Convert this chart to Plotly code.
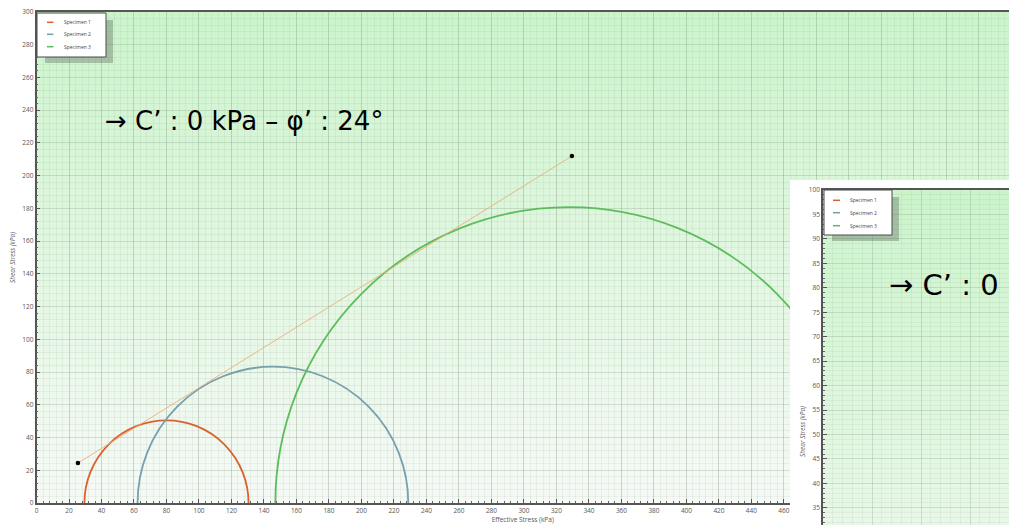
import plotly.graph_objects as go

W, H = 1009, 525

# ---------------- data ----------------
specimens = ["Specimen 1", "Specimen 2", "Specimen 3"]
sigma3 = [29.5, 62.2, 147.0]      # minor effective principal stress (kPa)
sigma1 = [130.5, 228.8, 508.6]    # major effective principal stress (kPa)
colors = ["#d9632f", "#789fae", "#5cbd5c"]
env_sigma = [25.5, 329.5]         # failure envelope end points
env_tau = [24.4, 212.0]
main_xticks = list(range(0, 600, 20))
main_xlabels = [str(v) if v <= 460 else "" for v in main_xticks]
main_label = "→ C’ : 0 kPa – φ’ : 24°"
inset_label = "→ C’ : 0"
x_title = "Effective Stress (kPa)"
y_title = "Shear Stress (kPa)"

MAIN_X = [0, 598.5]
MAIN_Y = [0, 300]
INSET_X = [0, 75.9]
INSET_Y = [31.5, 100]


def px(x):
    return x / W


def py(y):
    return 1 - y / H


fig = go.Figure()

# failure envelope line with its end points
fig.add_trace(go.Scatter(x=env_sigma, y=env_tau, mode="lines+markers",
                         line=dict(color="rgba(236,170,120,0.85)", width=1),
                         marker=dict(color="black", size=4.5),
                         showlegend=False, hoverinfo="skip", cliponaxis=False))
# placeholders so that the mask and inset subplots exist
fig.add_trace(go.Scatter(x=[None], y=[None], xaxis="x2", yaxis="y2",
                         showlegend=False, hoverinfo="skip"))
fig.add_trace(go.Scatter(x=[None], y=[None], xaxis="x3", yaxis="y3",
                         showlegend=False, hoverinfo="skip"))

shapes = []


def lerp(c0, c1, t):
    return "rgb(%d,%d,%d)" % tuple(round(a + (b - a) * t) for a, b in zip(c0, c1))


TOP = (203, 244, 203)
BOT = (246, 249, 246)

# gradient background of the main plot
n = 70
for i in range(n):
    y0 = MAIN_Y[0] + (MAIN_Y[1] - MAIN_Y[0]) * i / n
    y1 = MAIN_Y[0] + (MAIN_Y[1] - MAIN_Y[0]) * (i + 1.05) / n
    t = (i + 0.5) / n
    shapes.append(dict(type="rect", xref="x", yref="y", x0=MAIN_X[0], x1=MAIN_X[1],
                       y0=y0, y1=y1, fillcolor=lerp(BOT, TOP, t),
                       line=dict(width=0), layer="below"))

# gradient background of the inset plot (full 0..100 scale)
n2 = 50
for i in range(n2):
    y0 = 100 * i / n2
    y1 = 100 * (i + 1.05) / n2
    if y1 < INSET_Y[0]:
        continue
    t = (i + 0.5) / n2
    shapes.append(dict(type="rect", xref="x3", yref="y3", x0=INSET_X[0], x1=INSET_X[1],
                       y0=y0, y1=y1, fillcolor=lerp(BOT, TOP, t),
                       line=dict(width=0), layer="below"))

# Mohr circles
for s3, s1, c in zip(sigma3, sigma1, colors):
    r = (s1 - s3) / 2
    shapes.append(dict(type="circle", xref="x", yref="y", x0=s3, x1=s1, y0=-r, y1=r,
                       line=dict(color=c, width=1.8), fillcolor="rgba(0,0,0,0)",
                       layer="between"))

annotations = []


def legend(x0, y0, x1, y1, lx0, lx1, ys, tx):
    shapes.append(dict(type="rect", xref="paper", yref="paper",
                       x0=px(x0 + 8), x1=px(x1 + 7), y0=py(y1 + 6), y1=py(y0 + 7),
                       fillcolor="rgba(95,105,95,0.38)", line=dict(width=0), layer="above"))
    shapes.append(dict(type="rect", xref="paper", yref="paper",
                       x0=px(x0), x1=px(x1), y0=py(y1), y1=py(y0),
                       fillcolor="white", line=dict(color="#4a4a4a", width=1), layer="above"))
    for name, c, yy in zip(specimens, colors, ys):
        shapes.append(dict(type="line", xref="paper", yref="paper",
                           x0=px(lx0), x1=px(lx1), y0=py(yy), y1=py(yy),
                           line=dict(color=c, width=1.5), layer="above"))
        annotations.append(dict(text=name, xref="paper", yref="paper", x=px(tx), y=py(yy),
                                xanchor="left", yanchor="middle", showarrow=False,
                                font=dict(size=5, color="#444", family="Open Sans")))


legend(37, 13, 106, 57, 47, 53.5, [22.3, 34.3, 46.7], 62)
legend(824, 190, 892, 235, 833, 840, [200.3, 212.7, 225.7], 848)

annotations.append(dict(text=main_label, xref="paper", yref="paper", x=px(103), y=py(121),
                        xanchor="left", yanchor="middle", showarrow=False,
                        font=dict(size=26, color="black", family="DejaVu Sans")))
annotations.append(dict(text=inset_label, xref="paper", yref="paper", x=px(887), y=py(285),
                        xanchor="left", yanchor="middle", showarrow=False,
                        font=dict(size=29, color="black", family="DejaVu Sans")))
annotations.append(dict(text=y_title, xref="paper", yref="paper", x=px(802), y=py(432),
                        xanchor="center", yanchor="middle", showarrow=False, textangle=-90,
                        font=dict(size=6.5, color="#555", family="Open Sans", style="italic")))

GRID = "rgba(110,140,110,0.24)"
MINOR = "rgba(110,140,110,0.09)"
TICKF = dict(size=6.5, color="#555", family="Open Sans")

fig.update_layout(
    width=W, height=H,
    margin=dict(l=0, r=0, t=0, b=0),
    paper_bgcolor="white", plot_bgcolor="white",
    showlegend=False,
    shapes=shapes, annotations=annotations,
    xaxis=dict(domain=[px(36.5), 1], range=MAIN_X, anchor="y",
               tickmode="array", tickvals=main_xticks, ticktext=main_xlabels,
               showgrid=True, gridcolor=GRID, gridwidth=1,
               ticks="inside", ticklen=4, tickcolor="#555", tickfont=TICKF,
               minor=dict(dtick=4, tick0=0, showgrid=True, gridcolor=MINOR, ticks="inside",
                          ticklen=2, tickcolor="#666"),
               showline=True, linecolor="#555", linewidth=1.5, mirror=True,
               zeroline=False, automargin=False,
               title=dict(text=x_title, standoff=2,
                          font=dict(size=6.5, color="#555", family="Open Sans"))),
    yaxis=dict(domain=[py(503), py(12)], range=MAIN_Y, anchor="x",
               dtick=20, tick0=0, showgrid=True, gridcolor=GRID, gridwidth=1,
               ticks="inside", ticklen=4, tickcolor="#555", tickfont=TICKF,
               minor=dict(dtick=4, showgrid=True, gridcolor=MINOR, ticks="inside",
                          ticklen=2, tickcolor="#666"),
               showline=True, linecolor="#555", linewidth=1.5, mirror=False,
               zeroline=False, automargin=False,
               title=dict(text=y_title, standoff=6,
                          font=dict(size=6.5, color="#555", family="Open Sans",
                                    style="italic"))),
    xaxis2=dict(domain=[px(790), 1], range=[0, 1], anchor="y2", visible=False),
    yaxis2=dict(domain=[0, py(180)], range=[0, 1], anchor="x2", visible=False),
    xaxis3=dict(domain=[px(823), 1], range=INSET_X, anchor="y3", side="top",
                dtick=20, tick0=0, showgrid=True, gridcolor=GRID,
                showticklabels=False, ticks="",
                minor=dict(dtick=4, showgrid=True, gridcolor=MINOR),
                showline=True, linecolor="#555", linewidth=1.5,
                zeroline=False, automargin=False),
    yaxis3=dict(domain=[0, py(190)], range=INSET_Y, anchor="x3",
                dtick=5, tick0=0, showgrid=True, gridcolor=GRID,
                ticks="inside", ticklen=4, tickcolor="#555", tickfont=TICKF,
                minor=dict(dtick=1, showgrid=True, gridcolor=MINOR, ticks="inside",
                           ticklen=2, tickcolor="#666"),
                showline=True, linecolor="#555", linewidth=1.5,
                zeroline=False, automargin=False),
)

fig.write_html("out.html")
